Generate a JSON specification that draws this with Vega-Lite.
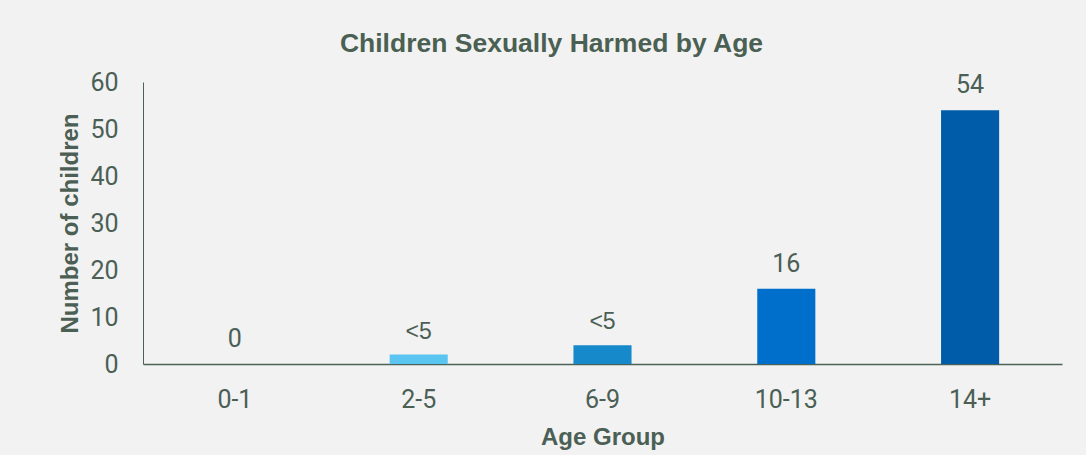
{
  "$schema": "https://vega.github.io/schema/vega-lite/v6.json",
  "autosize": {"type": "none"},
  "padding": {"left": 143, "top": 82, "right": 24, "bottom": 91},
  "width": 919,
  "height": 282,
  "background": "#f2f2f2",
  "config": {
    "view": {"stroke": null},
    "axis": {"grid": false, "ticks": false, "tickSize": 0, "domainColor": "#4a6356", "labelColor": "#4b5f55", "titleColor": "#4b5f55"}
  },
  "title": {
    "text": "Children Sexually Harmed by Age",
    "font": "Liberation Sans",
    "fontSize": 26.5,
    "fontWeight": "bold",
    "color": "#4a6052",
    "anchor": "middle",
    "frame": "group",
    "dx": -51,
    "baseline": "alphabetic",
    "offset": -8
  },
  "data": {
    "values": [
      {"age": "0-1", "children": 0, "label": "0"},
      {"age": "2-5", "children": 2, "label": "<5"},
      {"age": "6-9", "children": 4, "label": "<5"},
      {"age": "10-13", "children": 16, "label": "16"},
      {"age": "14+", "children": 54, "label": "54"}
    ]
  },
  "encoding": {
    "x": {
      "field": "age",
      "type": "nominal",
      "sort": null,
      "scale": {"paddingInner": 0.684, "paddingOuter": 0.342},
      "axis": {
        "title": "Age Group",
        "titleFont": "Liberation Sans",
        "titleFontSize": 24,
        "titleFontWeight": "bold",
        "titleBaseline": "alphabetic",
        "titleX": 459.5,
        "titleY": 80,
        "labelAngle": 0,
        "labelFont": "Roboto",
        "labelFontSize": 25,
        "labelBaseline": "alphabetic",
        "labelPadding": 43,
        "domainWidth": 1.5
      }
    },
    "y": {
      "field": "children",
      "type": "quantitative",
      "scale": {"domain": [0, 60], "nice": false},
      "axis": {
        "title": "Number of children",
        "titleFont": "Liberation Sans",
        "titleFontSize": 24,
        "titleFontWeight": "bold",
        "titleAngle": -90,
        "titleBaseline": "alphabetic",
        "titleX": -66,
        "titleY": 141,
        "values": [0, 10, 20, 30, 40, 50, 60],
        "labelFont": "Roboto",
        "labelFontSize": 25,
        "labelPadding": 25,
        "domainWidth": 1
      }
    }
  },
  "layer": [
    {
      "mark": {"type": "bar"},
      "encoding": {
        "color": {
          "field": "age",
          "type": "nominal",
          "scale": {"domain": ["0-1", "2-5", "6-9", "10-13", "14+"], "range": ["#5bc5f2", "#5bc5f2", "#1589ca", "#006fcb", "#005ca8"]},
          "legend": null
        }
      }
    },
    {
      "transform": [{"filter": "datum.label != '<5'"}],
      "mark": {"type": "text", "font": "Roboto", "fontSize": 25, "color": "#4b5f55", "baseline": "alphabetic", "dy": -17},
      "encoding": {"text": {"field": "label"}}
    },
    {
      "transform": [{"filter": "datum.label == '<5'"}],
      "mark": {"type": "text", "font": "Liberation Sans", "fontSize": 23, "color": "#4b5f55", "baseline": "alphabetic", "dy": -16},
      "encoding": {"text": {"field": "label"}}
    }
  ]
}
